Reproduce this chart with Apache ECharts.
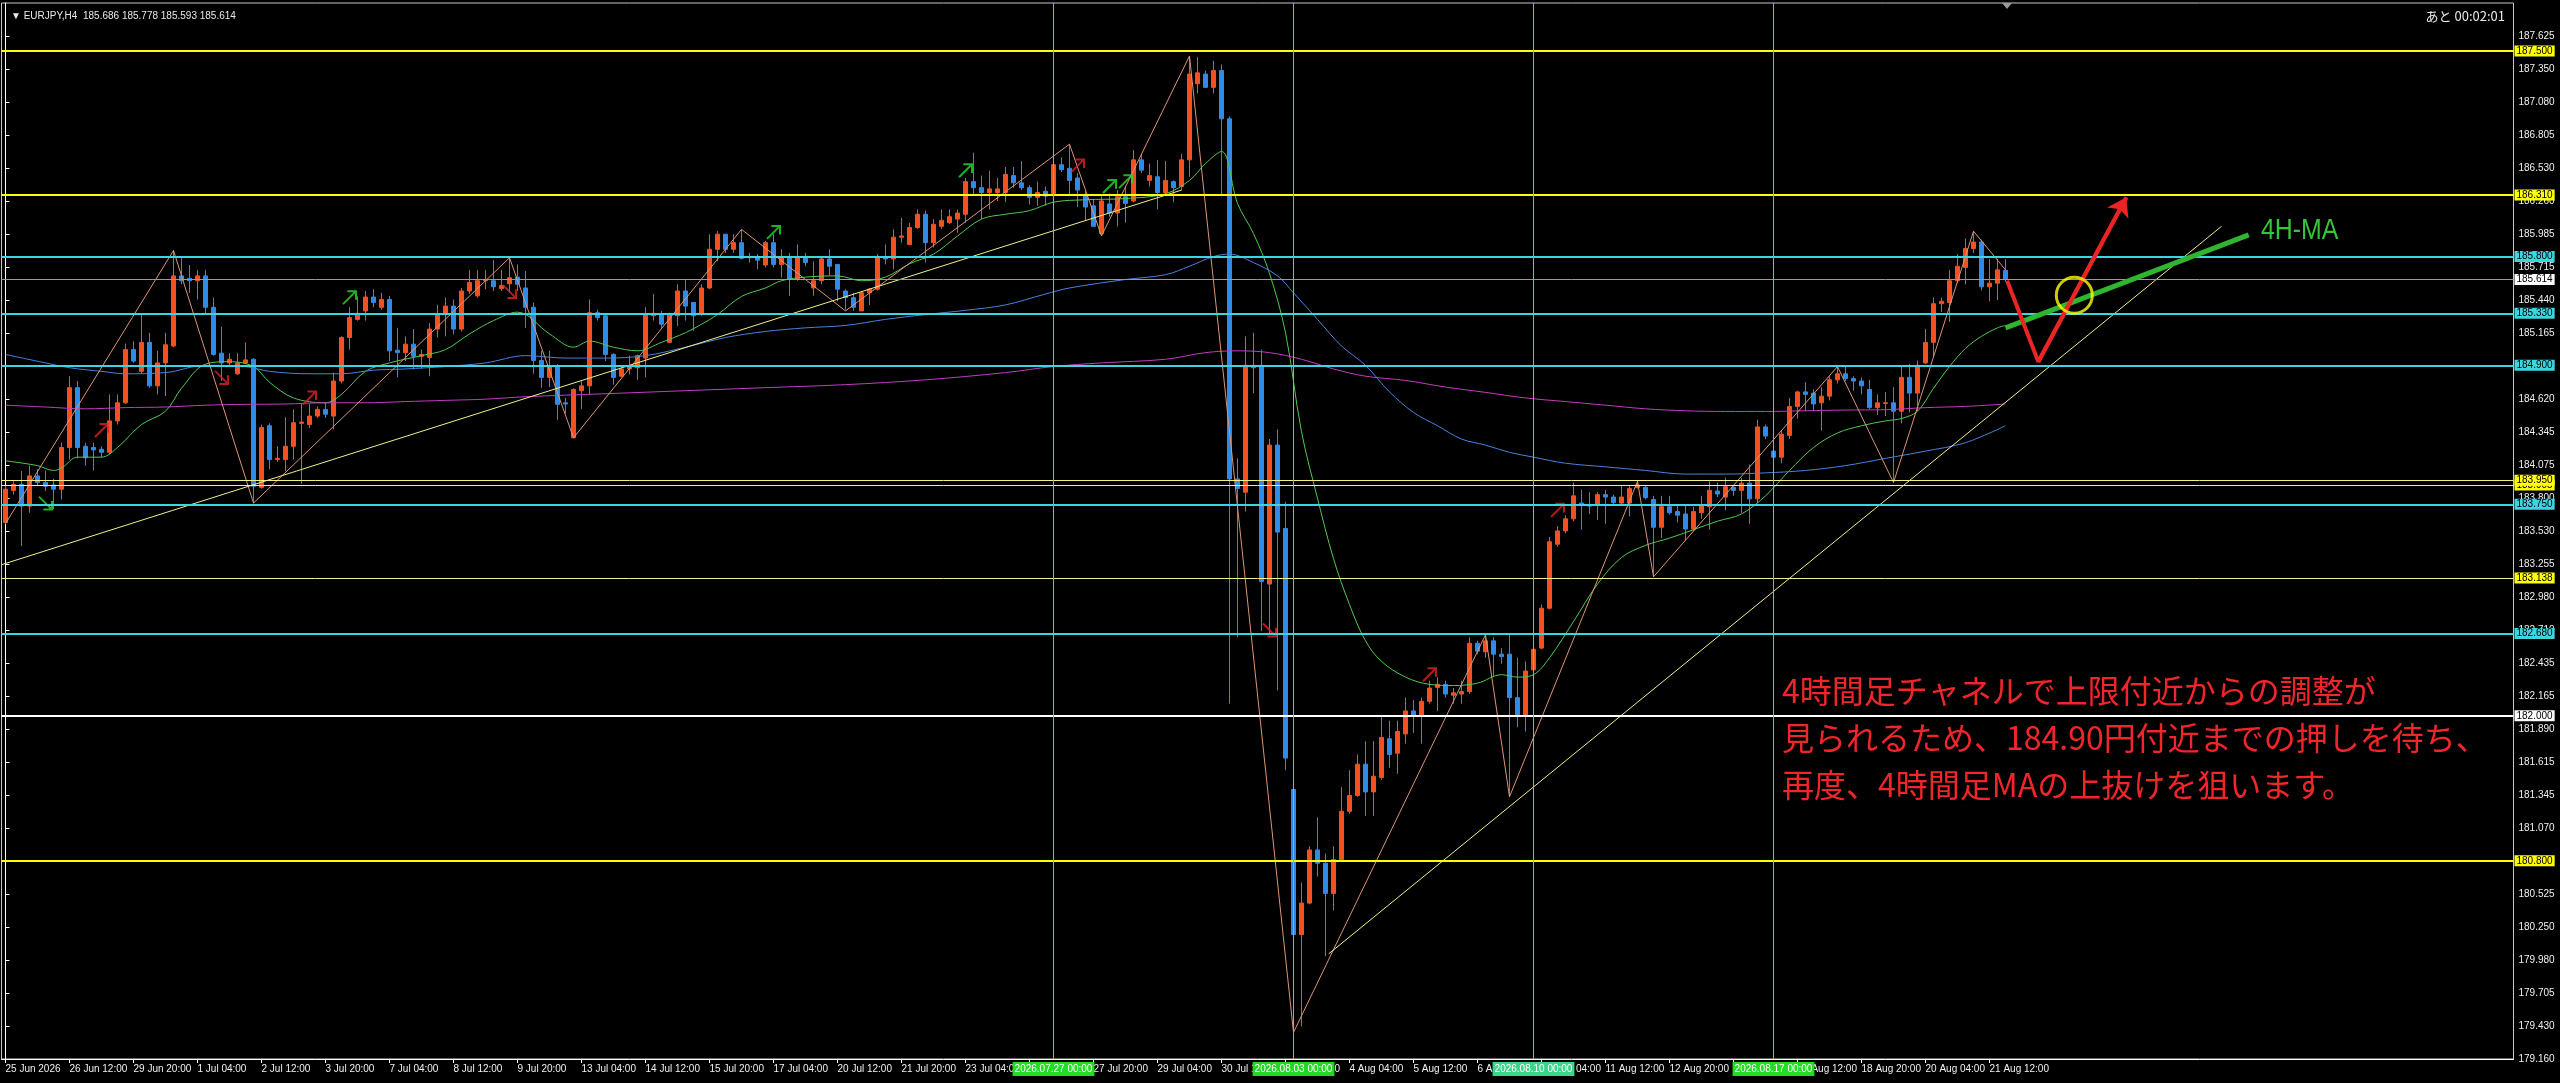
<!DOCTYPE html>
<html><head><meta charset="utf-8">
<script src="https://cdn.jsdelivr.net/npm/echarts@6.0.0/dist/echarts.min.js"></script>
<style>html,body{margin:0;padding:0;background:#000;overflow:hidden}#chart{width:2560px;height:1083px}</style>
</head><body><div id="chart"></div>
<script>
// ---------------- data ----------------
const xTickLabels = ['25 Jun 2026','26 Jun 12:00','29 Jun 20:00','1 Jul 04:00','2 Jul 12:00','3 Jul 20:00','7 Jul 04:00','8 Jul 12:00','9 Jul 20:00','13 Jul 04:00','14 Jul 12:00','15 Jul 20:00','17 Jul 04:00','20 Jul 12:00','21 Jul 20:00','23 Jul 04:00','24 Jul 12:00','27 Jul 20:00','29 Jul 04:00','30 Jul 12:00','31 Jul 20:00','4 Aug 04:00','5 Aug 12:00','6 Aug 20:00','10 Aug 04:00','11 Aug 12:00','12 Aug 20:00','14 Aug 04:00','17 Aug 12:00','18 Aug 20:00','20 Aug 04:00','21 Aug 12:00'];
const yTickLabels = ['179.160','179.430','179.705','179.980','180.250','180.525','180.800','181.070','181.345','181.615','181.890','182.165','182.435','182.710','182.980','183.255','183.530','183.800','184.075','184.345','184.620','184.890','185.165','185.440','185.715','185.985','186.260','186.530','186.805','187.080','187.350','187.625'];

const opens = [
183.600,183.865,183.915,183.735,183.985,183.930,183.910,183.875,184.220,184.715,
184.230,184.220,184.205,184.180,184.440,184.590,185.030,184.850,185.090,184.730,
184.920,185.060,185.640,185.620,185.600,185.640,185.380,185.000,184.920,184.830,
184.920,184.950,183.890,184.400,184.120,184.120,184.230,184.420,184.410,184.480,
184.535,184.480,184.770,185.130,185.280,185.350,185.465,185.380,185.445,185.025,
185.005,185.075,184.975,184.965,185.200,185.320,185.390,185.200,185.515,185.475,
185.600,185.600,185.535,185.575,185.630,185.540,185.380,184.940,184.800,184.895,
184.590,184.300,184.690,184.730,185.335,185.310,184.990,184.810,184.870,184.880,
184.960,185.310,185.320,185.090,185.310,185.515,185.420,185.320,185.540,185.860,
185.985,185.860,185.915,185.790,185.800,185.730,185.915,185.735,185.790,185.610,
185.790,185.540,185.600,185.780,185.735,185.515,185.460,185.350,185.500,185.530,
185.800,185.780,185.960,185.900,186.040,186.150,185.915,186.050,186.080,186.110,
186.150,186.420,186.370,186.330,186.330,186.330,186.470,186.410,186.370,186.290,
186.340,186.320,186.560,186.530,186.450,186.310,186.220,185.990,186.235,186.160,
186.295,186.260,186.600,186.430,186.460,186.330,186.420,186.380,186.600,187.230,
187.310,187.200,187.340,186.940,183.960,183.850,184.880,184.900,183.090,184.240,
183.550,181.390,180.190,180.450,180.890,180.780,180.530,180.810,181.210,181.340,
181.600,181.370,181.490,181.810,181.690,181.850,182.040,182.000,182.120,182.235,
182.260,182.170,182.180,182.200,182.600,182.530,182.620,182.510,182.510,182.150,
182.010,182.380,182.560,182.890,183.420,183.530,183.630,183.760,183.740,183.740,
183.830,183.810,183.760,183.760,183.890,183.890,183.790,183.560,183.730,183.690,
183.670,183.545,183.680,183.730,183.860,183.810,183.890,183.865,183.925,183.795,
184.390,184.190,184.140,184.320,184.560,184.680,184.670,184.590,184.645,184.780,
184.830,184.790,184.770,184.700,184.550,184.585,184.590,184.520,184.800,184.670,
184.920,185.090,185.410,185.420,185.600,185.710,185.866,185.920,185.550,185.580,
185.686];
const closes = [
183.875,183.915,183.735,183.985,183.930,183.900,183.875,184.220,184.715,184.220,
184.135,184.200,184.180,184.440,184.590,185.030,184.935,185.090,184.730,184.920,
185.070,185.640,185.600,185.600,185.640,185.380,184.990,184.920,184.950,184.920,
184.945,183.900,184.385,184.120,184.130,184.230,184.425,184.430,184.480,184.535,
184.495,184.770,185.130,185.295,185.330,185.465,185.420,185.445,185.020,185.005,
185.075,184.975,184.990,185.200,185.320,185.390,185.200,185.515,185.585,185.600,
185.610,185.550,185.560,185.625,185.570,185.380,184.940,184.800,184.895,184.577,
184.580,184.700,184.730,185.335,185.295,184.990,184.800,184.870,184.890,184.980,
185.320,185.330,185.240,185.320,185.515,185.390,185.310,185.540,185.860,185.985,
185.860,185.915,185.785,185.800,185.770,185.915,185.735,185.790,185.610,185.790,
185.750,185.600,185.780,185.720,185.530,185.460,185.380,185.500,185.530,185.790,
185.780,185.960,185.970,186.040,186.150,185.915,186.067,186.100,186.130,186.160,
186.420,186.370,186.330,186.360,186.360,186.480,186.410,186.370,186.290,186.330,
186.300,186.560,186.520,186.430,186.350,186.210,186.050,186.260,186.160,186.295,
186.240,186.600,186.515,186.470,186.330,186.430,186.370,186.600,187.310,187.320,
187.200,187.340,186.940,183.960,183.880,184.900,184.900,183.110,184.240,183.520,
181.650,180.190,180.450,180.890,180.780,180.530,180.810,181.210,181.340,181.600,
181.370,181.500,181.820,181.680,181.870,182.040,182.000,182.120,182.230,182.260,
182.180,182.190,182.200,182.600,182.535,182.620,182.510,182.490,182.150,182.010,
182.370,182.550,182.890,183.440,183.530,183.630,183.820,183.740,183.735,183.830,
183.810,183.765,183.810,183.880,183.910,183.805,183.560,183.730,183.680,183.660,
183.545,183.690,183.740,183.866,183.835,183.895,183.865,183.925,183.795,184.390,
184.315,184.140,184.330,184.560,184.680,184.660,184.580,184.645,184.780,184.830,
184.790,184.770,184.730,184.550,184.590,184.590,184.520,184.800,184.670,184.900,
185.090,185.410,185.430,185.600,185.720,185.866,185.920,185.550,185.580,185.690,
185.614];
const lows = [
183.585,183.830,183.405,183.680,183.900,183.860,183.710,183.790,184.120,184.130,
184.070,184.030,184.140,184.165,184.410,184.580,184.920,184.830,184.715,184.660,
184.645,185.050,185.570,185.500,185.445,185.320,184.980,184.770,184.890,184.820,
184.910,183.760,183.880,184.040,184.100,184.025,184.120,183.920,184.380,184.465,
184.465,184.370,184.750,185.030,185.270,185.270,185.380,185.360,184.935,184.800,
184.935,184.865,184.870,184.810,185.130,185.140,185.155,185.180,185.490,185.460,
185.530,185.515,185.515,185.500,185.515,185.210,184.830,184.715,184.720,184.450,
184.500,184.300,184.540,184.660,185.270,184.935,184.740,184.800,184.825,184.780,
184.800,185.270,185.210,185.090,185.225,185.270,185.185,185.310,185.530,185.760,
185.830,185.830,185.775,185.750,185.695,185.710,185.710,185.625,185.474,185.600,
185.720,185.475,185.570,185.640,185.430,185.360,185.350,185.350,185.400,185.520,
185.735,185.695,185.915,185.900,186.030,185.750,185.875,186.030,186.070,185.997,
186.080,186.310,186.110,186.190,186.260,186.250,186.370,186.350,186.230,186.220,
186.220,186.290,186.500,186.300,186.210,186.100,186.050,185.970,186.130,186.050,
186.080,186.250,186.490,186.380,186.190,186.300,186.250,186.350,186.460,187.150,
187.200,187.150,186.300,182.100,182.650,183.690,184.670,182.700,182.670,182.210,
181.550,179.400,179.430,180.440,180.670,180.010,180.390,180.810,181.190,181.330,
181.170,181.170,181.470,181.570,181.520,181.770,181.860,181.770,182.100,182.040,
182.150,182.100,182.100,182.180,182.510,182.480,182.320,182.430,181.330,181.905,
181.870,182.350,182.550,182.880,183.400,183.510,183.610,183.540,183.670,183.620,
183.590,183.740,183.740,183.650,183.880,183.790,183.150,183.470,183.665,183.600,
183.450,183.530,183.630,183.540,183.810,183.700,183.820,183.680,183.590,183.760,
184.290,184.120,184.090,184.290,184.460,184.520,184.520,184.360,184.610,184.750,
184.770,184.690,184.660,184.540,184.490,184.480,183.930,184.420,184.510,184.520,
184.910,184.970,185.340,185.260,185.580,185.570,185.830,185.520,185.430,185.440,
185.593];
const highs = [
183.900,183.950,184.025,184.070,184.040,184.030,183.960,184.260,184.810,184.770,
184.260,184.260,184.230,184.660,184.660,185.080,185.100,185.330,185.170,185.020,
185.170,185.850,185.790,185.730,185.690,185.690,185.460,185.220,185.000,185.000,
185.090,184.960,184.410,184.420,184.230,184.470,184.535,184.580,184.580,184.560,
184.590,184.840,185.140,185.380,185.470,185.515,185.530,185.500,185.475,185.210,
185.140,185.200,185.030,185.250,185.400,185.460,185.445,185.540,185.690,185.690,
185.690,185.770,185.690,185.790,185.735,185.680,185.420,185.020,185.020,184.910,
184.630,184.710,184.770,185.445,185.360,185.330,185.000,184.880,184.980,184.990,
185.380,185.490,185.350,185.335,185.570,185.610,185.420,185.570,185.985,186.010,
185.985,185.985,186.025,185.830,185.820,185.930,185.985,185.860,185.830,185.900,
185.830,185.760,185.790,185.860,185.735,185.530,185.500,185.515,185.540,185.820,
185.900,186.025,186.120,186.080,186.190,186.180,186.110,186.190,186.190,186.190,
186.450,186.660,186.470,186.510,186.450,186.540,186.540,186.590,186.390,186.420,
186.380,186.570,186.620,186.730,186.490,186.350,186.270,186.300,186.320,186.350,
186.380,186.680,186.650,186.570,186.600,186.590,186.430,186.650,187.460,187.450,
187.340,187.420,187.390,186.960,184.130,185.140,185.170,185.030,184.290,184.370,
183.770,181.400,180.620,180.920,181.160,180.860,180.920,181.410,181.550,181.680,
181.790,181.790,181.990,181.960,181.960,182.150,182.130,182.150,182.290,182.320,
182.290,182.230,182.290,182.650,182.620,182.670,182.650,182.560,182.670,182.480,
182.450,182.650,182.920,183.480,183.570,183.660,183.930,183.870,183.850,183.850,
183.870,183.830,183.910,183.910,183.940,183.910,183.820,183.820,183.820,183.740,
183.740,183.730,183.820,183.940,183.930,183.970,183.910,183.970,184.080,184.450,
184.410,184.220,184.360,184.630,184.690,184.760,184.700,184.720,184.810,184.890,
184.890,184.810,184.800,184.780,184.660,184.680,184.720,184.890,184.910,184.940,
185.200,185.460,185.460,185.690,185.820,185.950,186.010,185.940,185.780,185.780,
185.778];

// moving averages: [bar, price]
const maGreen = [[0,184.11],[4,184.07],[6,184.03],[7,184.05],[9,184.14],[12,184.14],[14,184.22],[17,184.41],[20,184.52],[22,184.71],[25,184.91],[28,184.93],[31,184.89],[33,184.76],[36,184.63],[40,184.59],[42,184.66],[45,184.85],[48,184.92],[52,184.98],[55,185.03],[58,185.16],[61,185.27],[64,185.34],[68,185.16],[71,185.05],[73,185.10],[76,185.05],[79,185.02],[82,185.09],[85,185.17],[87,185.24],[89,185.32],[92,185.47],[95,185.54],[97,185.60],[100,185.63],[104,185.64],[107,185.60],[110,185.63],[113,185.74],[116,185.82],[119,185.97],[122,186.11],[125,186.15],[128,186.18],[131,186.25],[135,186.27],[140,186.28],[145,186.32],[148,186.43],[150,186.57],[152,186.67],[154,186.24],[156,185.99],[158,185.66],[160,185.17],[162,184.35],[164,183.80],[166,183.30],[168,182.92],[170,182.62],[172,182.45],[175,182.32],[178,182.26],[181,182.25],[184,182.27],[187,182.34],[189,182.32],[191,182.34],[193,182.48],[196,182.78],[199,183.09],[202,183.31],[205,183.41],[208,183.47],[211,183.54],[214,183.61],[217,183.67],[220,183.82],[223,184.03],[226,184.22],[229,184.34],[232,184.40],[235,184.44],[237,184.46],[239,184.52],[241,184.71],[243,184.89],[245,185.04],[247,185.14],[249,185.21],[250,185.23]];
const maBlue = [[0,184.99],[5,184.92],[8,184.88],[12,184.85],[15,184.83],[20,184.84],[25,184.90],[30,184.89],[33,184.85],[38,184.83],[42,184.83],[46,184.86],[50,184.87],[55,184.89],[60,184.92],[65,184.98],[70,184.96],[75,184.96],[80,184.98],[85,185.05],[90,185.13],[95,185.18],[100,185.21],[105,185.23],[110,185.28],[115,185.32],[120,185.355],[125,185.40],[130,185.49],[133,185.54],[140,185.61],[145,185.65],[148,185.72],[151,185.80],[153,185.82],[156,185.75],[159,185.64],[161,185.50],[164,185.28],[167,185.06],[170,184.90],[173,184.68],[176,184.51],[179,184.40],[182,184.29],[185,184.24],[188,184.18],[191,184.14],[195,184.09],[200,184.06],[205,184.03],[210,184.00],[215,184.00],[220,184.01],[225,184.03],[230,184.07],[235,184.13],[240,184.19],[245,184.26],[250,184.40]];
const maMagenta = [[0,184.57],[5,184.555],[10,184.54],[15,184.55],[20,184.555],[25,184.57],[30,184.577],[35,184.58],[40,184.59],[45,184.59],[50,184.60],[55,184.61],[60,184.62],[65,184.64],[75,184.665],[85,184.69],[95,184.715],[105,184.74],[115,184.78],[125,184.84],[131,184.89],[137,184.92],[145,184.95],[150,185.005],[154,185.02],[158,185.005],[162,184.95],[166,184.87],[170,184.81],[175,184.775],[180,184.72],[185,184.676],[190,184.63],[195,184.60],[200,184.57],[205,184.54],[210,184.524],[215,184.518],[220,184.518],[225,184.524],[230,184.53],[235,184.533],[240,184.55],[245,184.56],[250,184.58]];

// zigzag swing points and trendlines: [bar, price]
const zigzag = [[0,183.59],[21,185.85],[31,183.76],[63,185.79],[71,184.30],[92,186.025],[105,185.35],[133,186.73],[137,185.97],[148,187.46],[161,179.38],[185,182.67],[188,181.33],[204,183.94],[206,183.15],[229,184.89],[236,183.93],[246,186.01],[250,185.69]];
const trendOld = [[-0.5,183.25],[147,186.35]];
const trendNew = [[165.4,180.03],[277,186.05]];

// signal arrows [bar, price]
const arrowsGreenUp = [[43,185.46],[96,186.00],[120,186.51],[138,186.38],[140,186.42]];
const arrowsGreenDown = [[5,183.76]];
const arrowsRedUp = [[12,184.36],[38,184.63],[134,186.55],[178,182.34],[194,183.70]];
const arrowsRedDown = [[27,184.80],[63,185.51],[158,182.71]];

// horizontal levels
const levelPrices = [187.500, 186.310, 185.800, 185.614, 185.330, 184.900, 183.905, 183.950, 183.750, 183.138, 182.680, 182.000, 180.800];
const levelKinds  = ['yellow','yellow','cyan','price','cyan','cyan','thin','thin','cyan','thin','cyan','white','yellow'];

// vertical period separators
const vLineBars = [131, 161, 191, 221];
const vLineLabels = ['2026.07.27 00:00','2026.08.03 00:00','2026.08.10 00:00','2026.08.17 00:00'];

// hand-drawn scenario
const scenarioV = [[250.2,185.60],[254.1,184.93],[265.1,186.29]];
const maSketch = [[250,185.21],[280.4,185.98]];
const focusCircle = [[258.6,185.48]];
const noteLines = ['4時間足チャネルで上限付近からの調整が','見られるため、184.90円付近までの押しを待ち、','再度、4時間足MAの上抜けを狙います。'];

// ---------------- styles / layout ----------------
const UP = '#F2521E', DOWN = '#2E8BE8';
const slotCount = 314;
const barSlots = Array.from({length: slotCount}, (_, i) => 'b' + i);
const yMin = 179.160, yStep = 0.273065, yMax = yMin + 32 * yStep;
const kindStyle = {
  yellow: {line: '#FFFF00', width: 2, bg: '#FFFF00'},
  cyan:   {line: '#3AD6E2', width: 2, bg: '#3AD6E2'},
  thin:   {line: '#F4F08C', width: 1, bg: '#FFFF00'},
  white:  {line: '#FFFFFF', width: 2, bg: '#FFFFFF'},
  price:  {line: '#9A9A9A', width: 1, bg: '#FFFFFF'}
};
const vBoxColors = ['#22DD22','#22D622','#3AD78A','#22DD22'];

const candles = opens.map((o, i) => {
  const c = closes[i];
  return [o, c, Math.min(lows[i], o, c), Math.max(highs[i], o, c)];
});

const arrowUpPath = 'path://M0,10L9,1M3,1L9,1L9,7';
const arrowDownPath = 'path://M0,0L9,9M9,3L9,9L3,9';
function arrowSeries(data, path, color) {
  return {type: 'scatter', xAxisIndex: 1, yAxisIndex: 0, data, symbol: path, symbolSize: 13,
    itemStyle: {color: 'rgba(0,0,0,0)', borderColor: color, borderWidth: 2}, silent: true, z: 4};
}

const chart = echarts.init(document.getElementById('chart'), null, {renderer: 'canvas'});
const option = {
  backgroundColor: '#000000',
  animation: false,
  title: [
    {text: '▼ EURJPY,H4  185.686 185.778 185.593 185.614', left: 6, top: 6,
     textStyle: {color: '#E8E8E8', fontSize: 10, fontWeight: 'normal', fontFamily: 'Liberation Sans'}},
    {text: 'あと 00:02:01', right: 50, top: 5,
     textStyle: {color: '#E8E8E8', fontSize: 13, fontWeight: 'normal', fontFamily: '"Noto Sans CJK JP"'}}
  ],
  grid: {left: 1.5, right: 46.5, top: 3, bottom: 24, show: true, borderColor: '#C8C8C8', borderWidth: 1,
         backgroundColor: '#000', containLabel: false, outerBoundsMode: 'none'},
  xAxis: [
    {type: 'category', data: barSlots, boundaryGap: true,
     axisLine: {show: true, lineStyle: {color: '#FFFFFF', width: 1}},
     axisTick: {show: true, alignWithLabel: true, length: 4, lineStyle: {color: '#FFFFFF'},
                interval: (i) => i % 8 === 0 && i / 8 < xTickLabels.length},
     axisLabel: {show: true, color: '#F0F0F0', fontSize: 10, margin: 5, align: 'left',
                 fontFamily: '"Liberation Sans Narrow", "Liberation Sans"',
                 interval: (i) => i % 8 === 0 && i / 8 < xTickLabels.length,
                 formatter: (v, i) => xTickLabels[i / 8] || ''},
     splitLine: {show: false}},
    {type: 'value', min: -0.5, max: slotCount - 0.5, show: false}
  ],
  yAxis: {type: 'value', position: 'right', min: yMin, max: yMax, interval: yStep,
    axisLine: {show: true, lineStyle: {color: '#FFFFFF'}},
    axisTick: {show: true, length: 4, lineStyle: {color: '#FFFFFF'}},
    axisLabel: {color: '#F0F0F0', fontSize: 10, margin: 5, fontFamily: 'Liberation Sans',
      showMaxLabel: false,
      formatter: (v) => { const k = Math.round((v - yMin) / yStep); return yTickLabels[k] || ''; }},
    splitLine: {show: false}},
  graphic: [
    {type: 'polygon', shape: {points: [[2002, 3], [2012, 3], [2007, 9]]}, style: {fill: '#9A9A9A'}, silent: true},
    {type: 'text', x: 1782, y: 667, silent: true,
     style: {text: noteLines.join('\n'), fill: '#F2262A', fontSize: 32, lineHeight: 47,
             fontFamily: '"Noto Sans CJK JP"', align: 'left', verticalAlign: 'top'}},
    {type: 'text', x: 2261, y: 231, scaleX: 0.83, silent: true,
     style: {text: '4H-MA', fill: '#36C43A', fontSize: 30, fontFamily: 'Liberation Sans',
             align: 'left', verticalAlign: 'middle'}}
  ],
  series: [
    {type: 'candlestick', name: 'EURJPY', xAxisIndex: 0, yAxisIndex: 0, data: candles, barWidth: 5,
     itemStyle: {color: UP, color0: DOWN, borderColor: UP, borderColor0: DOWN, borderWidth: 1},
     markLine: {silent: true, symbol: ['none', 'none'], animation: false,
       data: levelPrices.map((p, i) => {
         const s = kindStyle[levelKinds[i]];
         return {name: p.toFixed(3), yAxis: p, lineStyle: {color: s.line, width: s.width, type: 'solid'},
           label: {show: true, position: 'end', formatter: '{b}', color: '#000', backgroundColor: s.bg,
                   fontSize: 10, lineHeight: 11, padding: [0, 2, 0, 2], distance: 1, fontFamily: 'Liberation Sans'}};
       })}},
    {type: 'line', name: 'MA fast', xAxisIndex: 1, yAxisIndex: 0, data: maGreen, showSymbol: false, smooth: 0.35,
     lineStyle: {color: '#52C852', width: 1}, silent: true},
    {type: 'line', name: 'MA mid', xAxisIndex: 1, yAxisIndex: 0, data: maBlue, showSymbol: false, smooth: 0.35,
     lineStyle: {color: '#4A82DE', width: 1}, silent: true},
    {type: 'line', name: 'MA slow', xAxisIndex: 1, yAxisIndex: 0, data: maMagenta, showSymbol: false, smooth: 0.35,
     lineStyle: {color: '#C23CC2', width: 1}, silent: true},
    {type: 'line', name: 'ZigZag', xAxisIndex: 1, yAxisIndex: 0, data: zigzag, showSymbol: false,
     lineStyle: {color: '#DB9674', width: 1}, silent: true,
     markLine: {silent: true, symbol: ['none', 'none'], animation: false,
       data: vLineBars.map((b, i) => ({xAxis: b, lineStyle: {color: '#5CD85C', width: 1, type: 'solid'},
         label: {show: true, position: 'start', formatter: vLineLabels[i], color: '#FFFFFF', backgroundColor: vBoxColors[i],
                 fontSize: 10, lineHeight: 13, padding: [1, 2, 0, 2], distance: 3,
                 fontFamily: '"Liberation Sans Narrow", "Liberation Sans"'}}))}},
    {type: 'line', name: 'Trend 1', xAxisIndex: 1, yAxisIndex: 0, data: trendOld, showSymbol: false,
     lineStyle: {color: '#F2F08A', width: 1}, silent: true},
    {type: 'line', name: 'Trend 2', xAxisIndex: 1, yAxisIndex: 0, data: trendNew, showSymbol: false,
     lineStyle: {color: '#F2F08A', width: 1}, silent: true},
    arrowSeries(arrowsGreenUp, arrowUpPath, '#27DD27'),
    arrowSeries(arrowsGreenDown, arrowDownPath, '#27DD27'),
    arrowSeries(arrowsRedUp, arrowUpPath, '#E52222'),
    arrowSeries(arrowsRedDown, arrowDownPath, '#E52222'),
    {type: 'line', name: 'MA sketch', xAxisIndex: 1, yAxisIndex: 0, data: maSketch, showSymbol: false,
     lineStyle: {color: '#2FB52F', width: 5}, silent: true, z: 5},
    {type: 'line', name: 'Scenario', xAxisIndex: 1, yAxisIndex: 0, data: scenarioV, showSymbol: false,
     lineStyle: {color: '#EC2424', width: 4}, silent: true, z: 6},
    {type: 'lines', name: 'Scenario head', coordinateSystem: 'cartesian2d', xAxisIndex: 1, yAxisIndex: 0,
     data: [{coords: scenarioV.slice(1)}], symbol: ['none', 'arrow'], symbolSize: 18,
     lineStyle: {color: '#EC2424', width: 4, opacity: 1}, silent: true, z: 6},
    {type: 'scatter', name: 'Focus', xAxisIndex: 1, yAxisIndex: 0, data: focusCircle, symbol: 'circle', symbolSize: 36,
     itemStyle: {color: 'rgba(0,0,0,0)', borderColor: '#FFFF00', borderWidth: 3}, silent: true, z: 7}
  ]
};
chart.setOption(option);
</script></body></html>
